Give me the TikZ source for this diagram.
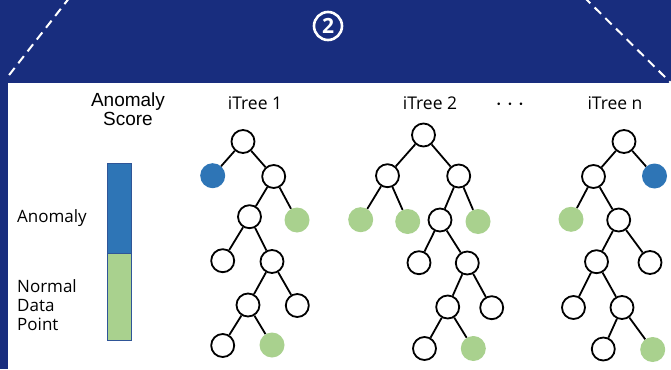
\documentclass[tikz,border=0pt]{standalone}
\usepackage{fontspec}
\setmainfont{Open Sans}
\newfontfamily\arialfont{Liberation Sans}
\definecolor{navy}{RGB}{24,45,126}
\definecolor{anomblue}{RGB}{46,117,182}
\definecolor{normgreen}{RGB}{169,209,142}
\definecolor{barborder}{RGB}{47,85,151}
\begin{document}
\begin{tikzpicture}[x=1pt,y=-1pt,
  tn/.style={circle,draw=black,fill=white,line width=1.8pt,minimum size=23pt,inner sep=0pt},
  an/.style={circle,fill=anomblue,minimum size=25pt,inner sep=0pt},
  gn/.style={circle,fill=normgreen,minimum size=25pt,inner sep=0pt},
  ed/.style={line width=1.8pt,black},
  lbl/.style={anchor=base west,inner sep=0pt,font=\fontsize{17}{19}\selectfont},
  ttl/.style={anchor=base,inner sep=0pt,font=\fontsize{17.5}{20}\selectfont},
  dashw/.style={white,line width=2pt,dash pattern=on 9pt off 6pt}
]
\useasboundingbox (0,0) rectangle (671,369);
\fill[navy] (0,0) rectangle (671,369);
\fill[white] (8,83) rectangle (671,369);
% dashed lines
\coordinate (dl1) at (70,-3);
\coordinate (dl2) at (6,79);
\coordinate (dr1) at (584,-3);
\coordinate (dr2) at (671,83);
\draw[dashw] (dl1) -- (dl2);
\draw[dashw] (dr1) -- (dr2);
% circled 2
\node[circle,draw=white,line width=2.6pt,minimum size=28pt,inner sep=0pt,text=white,font=\bfseries\fontsize{21}{21}\selectfont] (step2) at (328,26) {2};
% score bar
\node[anchor=base,inner sep=0pt,font=\arialfont\fontsize{19}{21}\selectfont] (t1) at (128,106) {Anomaly};
\node[anchor=base,inner sep=0pt,font=\arialfont\fontsize{19}{21}\selectfont] (t2) at (128,125) {Score};
\filldraw[fill=anomblue,draw=barborder,line width=0.8pt] (107,163) rectangle (131,253);
\filldraw[fill=normgreen,draw=barborder,line width=0.8pt] (107,253) rectangle (131,340);
\node[lbl] (la) at (17,222) {Anomaly};
\node[lbl] (ln1) at (17,292) {Normal};
\node[lbl] (ln2) at (17,311) {Data};
\node[lbl] (ln3) at (17,330) {Point};
% titles
\node[ttl] (it1) at (255,109) {iTree 1};
\node[ttl] (it2) at (430,109) {iTree 2};
\node[ttl] (itn) at (615,109) {iTree n};
\node[anchor=base,inner sep=0pt,font=\fontsize{24}{24}\selectfont] (dots) at (510,110) {$\cdots$};
% tree 1
\node[tn] (a0) at (243,141.5) {};
\node[an] (a1) at (212.7,175.7) {};
\node[tn] (a2) at (273.7,176.5) {};
\node[tn] (a3) at (249.5,216.7) {};
\node[gn] (a4) at (297,220) {};
\node[tn] (a5) at (222.7,260.7) {};
\node[tn] (a6) at (272,261.5) {};
\node[tn] (a7) at (248,305) {};
\node[tn] (a8) at (297.3,305.5) {};
\node[tn] (a9) at (222.7,345.5) {};
\node[gn] (a10) at (272,345) {};
\draw[ed] (a0)--(a1) (a0)--(a2) (a2)--(a3) (a2)--(a4) (a3)--(a5) (a3)--(a6)
  (a6)--(a7) (a6)--(a8) (a7)--(a9) (a7)--(a10);
% tree 2
\node[tn] (b0) at (423.5,135) {};
\node[tn] (b1) at (387.5,175.7) {};
\node[tn] (b2) at (458.7,176) {};
\node[gn] (b3) at (360.7,219.7) {};
\node[gn] (b4) at (407.7,221.5) {};
\node[tn] (b5) at (440,220) {};
\node[gn] (b6) at (478,221.5) {};
\node[tn] (b7) at (419,262.7) {};
\node[tn] (b8) at (467.3,263) {};
\node[tn] (b9) at (447.7,307) {};
\node[tn] (b10) at (491.7,307.7) {};
\node[tn] (b11) at (424.5,348.5) {};
\node[gn] (b12) at (473.3,348.5) {};
\draw[ed] (b0)--(b1) (b0)--(b2) (b1)--(b3) (b1)--(b4) (b2)--(b5) (b2)--(b6)
  (b5)--(b7) (b5)--(b8) (b8)--(b9) (b8)--(b10) (b9)--(b11) (b9)--(b12);
% tree n
\node[tn] (c0) at (624,141.5) {};
\node[tn] (c1) at (593.5,176.5) {};
\node[an] (c2) at (654.5,176) {};
\node[gn] (c3) at (571,219.3) {};
\node[tn] (c4) at (618.7,220) {};
\node[tn] (c5) at (596.5,261.7) {};
\node[tn] (c6) at (650,262.5) {};
\node[tn] (c7) at (573.5,307.5) {};
\node[tn] (c8) at (622,307.5) {};
\node[tn] (c9) at (603.3,349) {};
\node[gn] (c10) at (652.7,349.5) {};
\draw[ed] (c0)--(c1) (c0)--(c2) (c1)--(c3) (c1)--(c4) (c4)--(c5) (c4)--(c6)
  (c5)--(c7) (c5)--(c8) (c8)--(c9) (c8)--(c10);
\end{tikzpicture}
\end{document}
